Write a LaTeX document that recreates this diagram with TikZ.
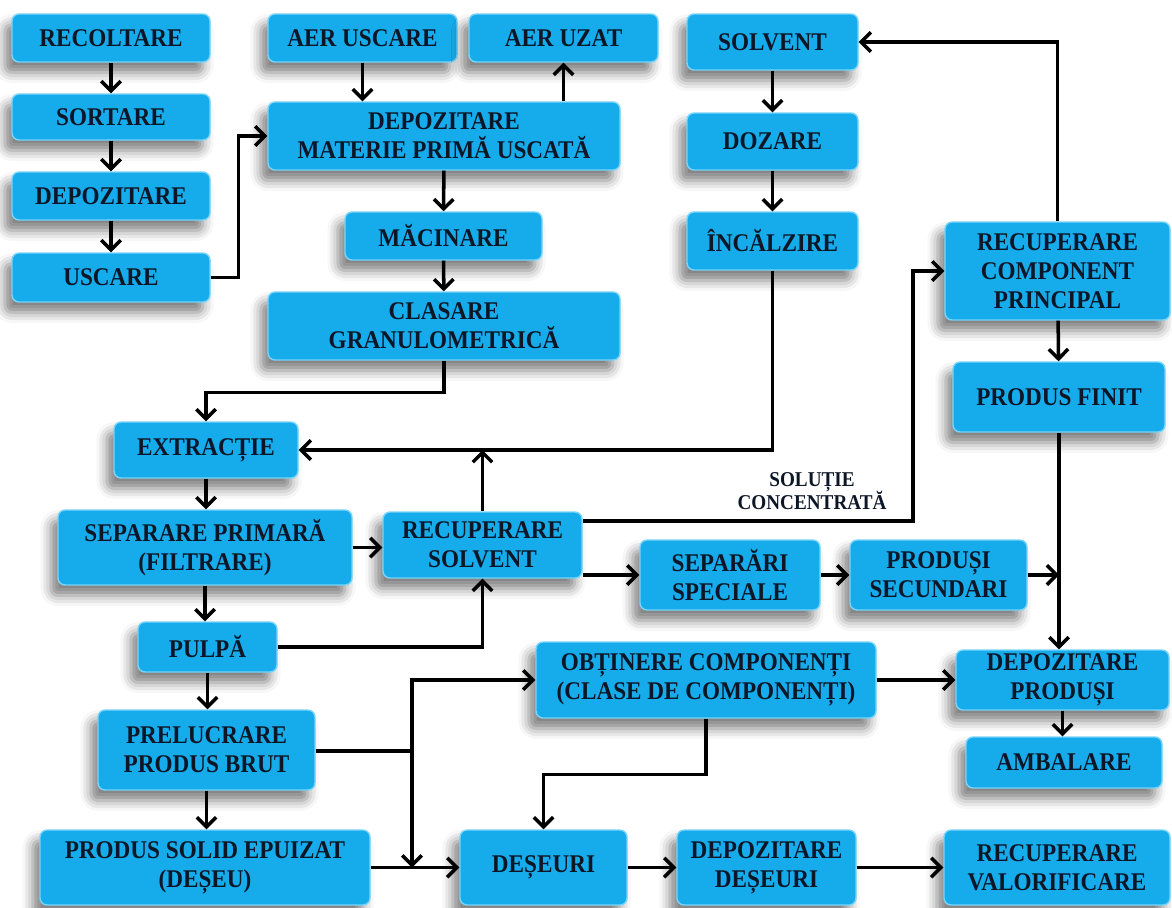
\documentclass[tikz,border=0pt]{standalone}
\usepackage{fontspec}
\setmainfont{Liberation Serif}[FakeStretch=0.91]
\usetikzlibrary{arrows.meta,shadows.blur,calc}
\definecolor{boxblue}{RGB}{22,172,236}
\definecolor{boxedge}{RGB}{120,212,248}
\definecolor{txt}{RGB}{12,22,38}
\tikzset{
 box/.style={rectangle, rounded corners=4pt, fill=boxblue, draw=boxedge, line width=0.8pt,
   align=center, text=txt, font=\fontsize{14.5}{16.5}\selectfont\bfseries, inner sep=0pt,
   blur shadow={shadow xshift=-4pt, shadow yshift=-6pt, shadow blur radius=6pt, shadow opacity=50}},
 arr/.style={line width=2pt, -{Straight Barb[length=5.5pt,width=11pt]}},
 ln/.style={line width=2pt},
 lbl/.style={font=\fontsize{12}{13.5}\selectfont\bfseries, text=txt, align=center}
}
\newcommand\pbox[6]{\node[box, minimum width={(#4-#2)*0.02cm}, minimum height={(#5-#3)*0.02cm}] (#1) at ({(#2+#4)/2},{(#3+#5)/2}) {#6};}
\begin{document}
\begin{tikzpicture}[x=0.02cm,y=-0.02cm]
\useasboundingbox (0,0) rectangle (1172,907);
% nodes
\pbox{rec}{12}{14}{210}{62}{RECOLTARE}
\pbox{sor}{12}{94}{210}{140}{SORTARE}
\pbox{dep}{12}{172}{210}{220}{DEPOZITARE}
\pbox{usc}{12}{253}{210}{302}{USCARE}
\pbox{aeru}{268}{14}{457}{62}{AER USCARE}
\pbox{aerz}{469}{14}{658}{62}{AER UZAT}
\pbox{dmp}{268}{102}{620}{170}{DEPOZITARE\\MATERIE PRIMĂ USCATĂ}
\pbox{mac}{345}{212}{542}{260}{MĂCINARE}
\pbox{cls}{268}{292}{620}{360}{CLASARE\\GRANULOMETRICĂ}
\pbox{sol}{687}{14}{858}{70}{SOLVENT}
\pbox{doz}{687}{113}{858}{170}{DOZARE}
\pbox{inc}{687}{212}{858}{270}{ÎNCĂLZIRE}
\pbox{rcp}{945}{222}{1170}{320}{RECUPERARE\\COMPONENT\\PRINCIPAL}
\pbox{pf}{953}{362}{1165}{432}{PRODUS FINIT}
\pbox{ext}{114}{422}{298}{478}{EXTRACȚIE}
\pbox{sep}{58}{510}{352}{585}{SEPARARE PRIMARĂ\\(FILTRARE)}
\pbox{rs}{383}{512}{582}{578}{RECUPERARE\\SOLVENT}
\pbox{ss}{640}{540}{820}{610}{SEPARĂRI\\SPECIALE}
\pbox{ps}{850}{540}{1027}{610}{PRODUȘI\\SECUNDARI}
\pbox{pul}{138}{622}{277}{672}{PULPĂ}
\pbox{pre}{98}{710}{315}{790}{PRELUCRARE\\PRODUS BRUT}
\pbox{pse}{40}{830}{370}{905}{PRODUS SOLID EPUIZAT\\(DEȘEU)}
\pbox{obt}{536}{642}{876}{718}{OBȚINERE COMPONENȚI\\(CLASE DE COMPONENȚI)}
\pbox{dp}{956}{650}{1169}{710}{DEPOZITARE\\PRODUȘI}
\pbox{amb}{966}{737}{1162}{788}{AMBALARE}
\pbox{des}{460}{830}{627}{905}{DEȘEURI}
\pbox{dd}{677}{830}{856}{905}{DEPOZITARE\\DEȘEURI}
\pbox{rv}{944}{830}{1170}{905}{RECUPERARE\\VALORIFICARE}
\node[lbl] (sclbl) at (812,491) {SOLUȚIE\\CONCENTRATĂ};
% connectors
\draw[arr] (rec) -- (sor);
\draw[arr] (sor) -- (dep);
\draw[arr] (dep) -- (usc);
\draw[arr] (usc.east) -- ++(28,0) |- (dmp.west);
\draw[arr] (aeru) -- (aeru |- dmp.north);
\draw[arr] (aerz |- dmp.north) -- (aerz);
\draw[arr] (dmp) -- (mac);
\draw[arr] (mac) -- (cls);
\draw[arr] (cls.south) -- ++(0,32) -| (ext.north);
\draw[arr] (sol) -- (doz);
\draw[arr] (doz) -- (inc);
\draw[arr] (inc.south) |- (ext.east);
\draw[arr] (rcp.north) |- (sol.east);
\draw[arr] (rcp) -- (pf);
\draw[arr] (pf.south) -- (pf.south |- dp.north);
\draw[arr] (ext) -- (ext |- sep.north);
\draw[arr] (sep.east) -- (sep.east -| rs.west);
\draw[arr] (rs.north) -- (rs.north |- ext.east);
\coordinate (sc) at (913,521);
\draw[arr] (rs.east |- sc) -- (sc) |- (rcp.west);
\draw[arr] (rs.east |- ss.west) -- (ss.west);
\draw[arr] (ss) -- (ps);
\draw[arr] (ps.east) -- (ps.east -| pf.south);
\draw[arr] (sep.south) -- (sep.south |- pul.north);
\draw[arr] (pul.east) -| (rs.south);
\draw[arr] (pul) -- (pul |- pre.north);
\draw[arr] (pre) -- (pre |- pse.north);
\draw[arr] (pse) -- (des);
\coordinate (j) at (412,751);
\draw[ln] (pre.east |- j) -- (j);
\draw[arr] (j) |- (obt.west);
\draw[arr] (j) -- (j |- des.west);
\draw[arr] (obt.east) -- (obt.east -| dp.west);
\draw[arr] (dp) -- (dp |- amb.north);
\draw[arr] (obt.south) -- ++(0,56) -| (des.north);
\draw[arr] (des) -- (dd);
\draw[arr] (dd) -- (rv);
\end{tikzpicture}
\end{document}
